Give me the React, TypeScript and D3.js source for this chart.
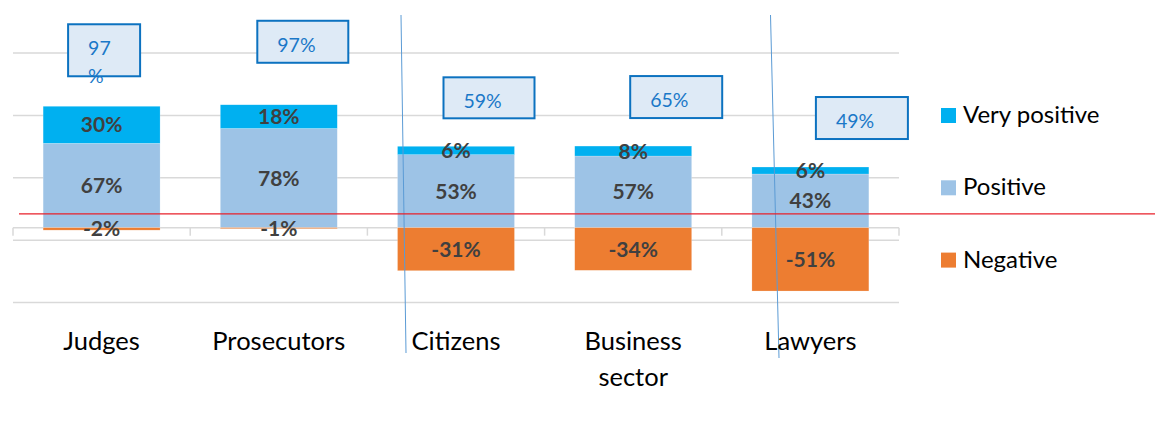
import React from "react";
import * as d3 from "d3";

const categories = ["Judges", "Prosecutors", "Citizens", "Business sector", "Lawyers"];
// bar values as drawn in the picture
const veryPositive = [0.297, 0.19, 0.067, 0.08, 0.056];
const positive = [0.676, 0.795, 0.585, 0.574, 0.43];
const negative = [-0.02, -0.008, -0.345, -0.342, -0.508];
// printed data labels
const veryPositiveLabels = ["30%", "18%", "6%", "8%", "6%"];
const positiveLabels = ["67%", "78%", "53%", "57%", "43%"];
const negativeLabels = ["-2%", "-1%", "-31%", "-34%", "-51%"];
const totals = ["97%", "97%", "59%", "65%", "49%"];
const seriesNames = ["Very positive", "Positive", "Negative"];
const gridValues = [-0.6, -0.1, 0.4, 0.9, 1.4];
const refLineValue = 0.11;

const colors = {
  veryPositive: "#00b0f0",
  positive: "#9dc3e6",
  negative: "#ed7d31",
};

// annotation box layout (pixel offsets relative to each bar)
const boxLayout = [
  { dx: -33.5, dy: -82, w: 72, h: 52, wrap: true },
  { dx: -21.5, dy: -84, w: 91, h: 42, wrap: false },
  { dx: -12.5, dy: -69, w: 91, h: 41, wrap: false },
  { dx: -3, dy: -70, w: 92, h: 42, wrap: false },
  { dx: 5.5, dy: -70, w: 92, h: 42, wrap: false },
];

const FONT = "Lato, 'Open Sans', sans-serif";

export default function App() {
  const W = 1155;
  const H = 423;
  const x = d3.scaleBand<string>().domain(categories).range([13, 899]).paddingInner(0.34).paddingOuter(0.17);
  const y = d3.scaleLinear().domain([-0.6, 1.4]).range([302.5, 53]);
  const y0 = y(0);
  const bw = x.bandwidth();
  const step = x.step();
  const boundaries = d3.range(categories.length + 1).map((i) => 13 + i * step);

  return (
    <svg width={W} height={H} style={{ position: "absolute", left: 0, top: 0, background: "#fff" }}>
      {/* gridlines */}
      {gridValues.map((g) => (
        <line key={g} x1={13} x2={899} y1={y(g)} y2={y(g)} stroke="#d9d9d9" strokeWidth={1.5} />
      ))}
      {/* axis */}
      <line x1={13} x2={899} y1={y0} y2={y0} stroke="#d9d9d9" strokeWidth={1.5} />
      {boundaries.map((b, i) => (
        <line key={i} x1={b} x2={b} y1={y0} y2={y0 + 8} stroke="#d9d9d9" strokeWidth={1.5} />
      ))}

      {/* bars */}
      {categories.map((c, i) => {
        const x0 = x(c)!;
        const p = positive[i];
        const vp = veryPositive[i];
        const n = negative[i];
        const segs = [
          { y1: y(p), y2: y0, fill: colors.positive },
          { y1: y(p + vp), y2: y(p), fill: colors.veryPositive },
          { y1: y0, y2: y(n), fill: colors.negative },
        ];
        return (
          <g key={c}>
            {segs.map((s, j) => (
              <rect key={j} x={x0} y={s.y1} width={bw} height={Math.max(0, s.y2 - s.y1)} fill={s.fill} stroke="#fff" strokeOpacity={0.4} strokeWidth={0.5} />
            ))}
          </g>
        );
      })}
      {categories.map((c, i) => {
        const x0 = x(c)!;
        const cx = x0 + bw / 2;
        const p = positive[i];
        const vp = veryPositive[i];
        const n = negative[i];
        const labels = [
          { cy: (y(p) + y0) / 2, t: positiveLabels[i] },
          { cy: (y(p + vp) + y(p)) / 2, t: veryPositiveLabels[i] },
          { cy: (y0 + y(n)) / 2, t: negativeLabels[i] },
        ];
        return (
          <g key={c + "l"}>
            {labels.map((l, j) => (
              <text key={j} x={cx} y={l.cy} dy="0.36em" textAnchor="middle" fontFamily={FONT} fontWeight={700} fontSize={21} fill="#404040">
                {l.t}
              </text>
            ))}
          </g>
        );
      })}

      {/* stray annotation lines */}
      <line x1={401} y1={15} x2={406} y2={353} stroke="#5b9bd5" strokeWidth={1} />
      <line x1={770.5} y1={15} x2={779} y2={358} stroke="#5b9bd5" strokeWidth={1} />

      {/* red reference line */}
      <line x1={19} x2={1155} y1={y(refLineValue)} y2={y(refLineValue)} stroke="#e8202a" strokeWidth={1.3} />

      {/* total boxes */}
      {categories.map((c, i) => {
        const cx = x(c)! + bw / 2;
        const top = y(positive[i] + veryPositive[i]);
        const L = boxLayout[i];
        const bx = cx + L.dx;
        const by = top + L.dy;
        const t = totals[i];
        const lines = L.wrap ? [t.replace("%", ""), "%"] : [t];
        return (
          <g key={c + "b"}>
            <rect x={bx} y={by} width={L.w} height={L.h} fill="#deeaf6" stroke="#0c72c0" strokeWidth={2} />
            <text x={bx + 20} y={by + 31} fontFamily={FONT} fontSize={19.5} fill="#1a78c8">
              {lines.map((ln, k) => (
                <tspan key={k} x={bx + 20} dy={k === 0 ? 0 : 28}>
                  {ln}
                </tspan>
              ))}
            </text>
          </g>
        );
      })}

      {/* category labels */}
      {categories.map((c) => {
        const cx = x(c)! + bw / 2;
        const words = c.split(" ");
        return (
          <text key={c + "c"} x={cx} y={350} textAnchor="middle" fontFamily={FONT} fontSize={25.5} fill="#000">
            {words.map((w, k) => (
              <tspan key={k} x={cx} dy={k === 0 ? 0 : 36}>
                {w}
              </tspan>
            ))}
          </text>
        );
      })}

      {/* legend */}
      {seriesNames.map((s, i) => {
        const fill = [colors.veryPositive, colors.positive, colors.negative][i];
        const cy = 115.5 + i * 72.3;
        return (
          <g key={s}>
            <rect x={941} y={cy - 7.5} width={15} height={15} fill={fill} />
            <text x={963} y={cy + 7.5} fontFamily={FONT} fontSize={24} fill="#000">
              {s}
            </text>
          </g>
        );
      })}
    </svg>
  );
}
